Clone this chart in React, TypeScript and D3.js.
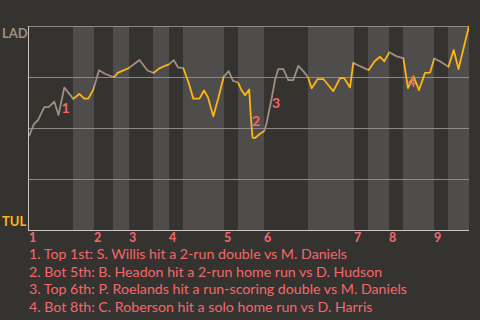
import React, { useEffect } from "react";
import * as d3 from "d3";

// Game progress (arbitrary units along the game) and LAD win probability (%)
const gameProgress = [
  0, 3, 5, 9, 15.3, 19.7, 25.3, 29.5, 35.3, 44.3, 50.3, 55.3, 59.3, 64.3, 70, 76, 81, 85.3,
  88.7, 92.7, 99.5, 110.5, 118.5, 124.7, 130, 136, 140, 144.7, 149, 154.3, 159.3, 164.3,
  170.5, 175, 179, 184.3, 189.3, 194.7, 199.7, 204, 209, 212.5, 216, 220.2, 221.7, 223.5,
  226, 231, 235.2, 237.7, 242.7, 246, 249.3, 254.3, 259.3, 264.3, 269.3, 274.3, 278.7,
  282.7, 288.7, 294.3, 299.3, 304.3, 311, 315.3, 321, 324.3, 331, 339.7, 345.7, 351,
  355.3, 360.3, 367.7, 374.3, 379, 384.5, 390, 396, 401, 405.3, 412, 419.5, 424.7, 429.5, 440,
];
const ladWinPct = [
  46, 49.5, 52, 53.9, 60.2, 60.2, 62.9, 56.4, 69.8, 64.3, 66.7, 64.4, 64.4, 68.8, 78.3, 76.6,
  75.6, 75.0, 77.0, 77.9, 79.3, 83.3, 78.2, 77.0, 79.1, 80.5, 81.2, 83.3, 79.7, 79.3, 72.7,
  64.4, 64.4, 68.4, 65.0, 55.8, 64.6, 75.1, 77.9, 73.1, 72.3, 68.6, 66.0, 68.9, 56.4, 45.3,
  45.1, 47.2, 48.4, 52.7, 64.6, 73.5, 78.9, 78.9, 73.5, 73.5, 80.5, 77.9, 75.1, 69.5, 74.0,
  74.0, 71.1, 68.1, 74.4, 74.4, 69.9, 81.9, 80.3, 78.4, 82.7, 84.9, 82.7, 87.1, 85.1, 84.3,
  69.6, 75.3, 68.6, 77.0, 77.1, 84.1, 82.4, 80.0, 88.2, 78.9, 100,
];

// Innings: start of top half, start of bottom half
const inningLabels = ["1", "2", "3", "4", "5", "6", "7", "8", "9"];
const topHalfStart = [0, 65, 100, 140, 195, 235, 325, 360, 405];
const bottomHalfStart = [44, 84, 124, 154, 209, 279, 339, 374, 419];
const gameEnd = 440;

const gridValues = [25, 50, 75, 100];

// Key events
const eventIds = ["1", "2", "3", "4"];
const eventProgress = [36.5, 227, 247, 382.5];
const eventWinPct = [59.8, 53.4, 62.3, 72.7];
const eventTexts = [
  "1. Top 1st: S. Willis hit a 2-run double vs M. Daniels",
  "2. Bot 5th: B. Headon hit a 2-run home run vs D. Hudson",
  "3. Top 6th: P. Roelands hit a run-scoring double vs M. Daniels",
  "4. Bot 8th: C. Roberson hit a solo home run vs D. Harris",
];

const awayTeam = "LAD";
const homeTeam = "TUL";

const W = 480;
const H = 320;
const BG = "#353330";
const LIGHT = "#4f4d4b";
const GRID = "#8c8b88";
const AXIS = "#c9c7c4";
const AWAY_COLOR = "#a08f7f";
const HOME_COLOR = "#fdb515";
const RED = "#f4676b";
const FONT = "Lato, 'Open Sans', sans-serif";

export default function App() {
  useEffect(() => {
    document.body.style.margin = "0";
    document.body.style.background = BG;
  }, []);

  const x = d3.scaleLinear().domain([0, gameEnd]).range([29, 469]);
  const y = d3.scaleLinear().domain([0, 100]).range([230, 26]);

  const pts: [number, number][] = gameProgress.map((p, i) => [p, ladWinPct[i]]);
  const line = d3
    .line<[number, number]>()
    .x((d) => x(d[0]))
    .y((d) => y(d[1]));
  const pathD = line(pts) || "";

  const bottomEnds = topHalfStart.slice(1).concat([gameEnd]);

  return (
    <svg width={W} height={H} style={{ display: "block", background: BG }}>
      <defs>
        <clipPath id="topHalves">
          {topHalfStart.map((s, i) => (
            <rect key={i} x={x(s)} y={0} width={x(bottomHalfStart[i]) - x(s)} height={H} />
          ))}
        </clipPath>
        <clipPath id="bottomHalves">
          {bottomHalfStart.map((s, i) => (
            <rect key={i} x={x(s)} y={0} width={x(bottomEnds[i]) - x(s)} height={H} />
          ))}
        </clipPath>
      </defs>
      <rect x={0} y={0} width={W} height={H} fill={BG} />
      {bottomHalfStart.map((s, i) => (
        <rect key={i} x={x(s)} y={y(100)} width={x(bottomEnds[i]) - x(s)} height={y(0) - y(100)} fill={LIGHT} />
      ))}
      {gridValues.map((v) => (
        <line key={v} x1={x(0)} x2={x(gameEnd)} y1={y(v) + 0.5} y2={y(v) + 0.5} stroke={GRID} strokeWidth={1} />
      ))}
      <line x1={x(0)} x2={x(gameEnd)} y1={y(0) + 0.5} y2={y(0) + 0.5} stroke={AXIS} strokeWidth={1} />
      <line x1={x(0) - 0.5} x2={x(0) - 0.5} y1={y(100)} y2={y(0) + 1} stroke={AXIS} strokeWidth={1} />

      <path d={pathD} fill="none" stroke={AWAY_COLOR} strokeWidth={1.8} clipPath="url(#topHalves)" strokeLinejoin="round" />
      <path d={pathD} fill="none" stroke={HOME_COLOR} strokeWidth={1.8} clipPath="url(#bottomHalves)" strokeLinejoin="round" />

      {eventIds.map((id, i) => (
        <text
          key={id}
          x={x(eventProgress[i])}
          y={y(eventWinPct[i])}
          dy="0.36em"
          textAnchor="middle"
          fill={RED}
          fontFamily={FONT}
          fontWeight="bold"
          fontSize={14}
        >
          {id}
        </text>
      ))}

      <text x={2} y={38} fill={AWAY_COLOR} fontFamily={FONT} fontWeight="bold" fontSize={13}>
        {awayTeam}
      </text>
      <text x={2} y={226} fill={HOME_COLOR} fontFamily={FONT} fontWeight="bold" fontSize={13}>
        {homeTeam}
      </text>

      {inningLabels.map((l, i) => (
        <text key={l} x={x(topHalfStart[i])} y={242} fill={RED} fontFamily={FONT} fontWeight="bold" fontSize={12.5}>
          {l}
        </text>
      ))}

      {eventTexts.map((t, i) => (
        <text key={i} x={29} y={259 + i * 17.5} fill={RED} fontFamily={FONT} fontSize={14.2}>
          {t}
        </text>
      ))}
    </svg>
  );
}
